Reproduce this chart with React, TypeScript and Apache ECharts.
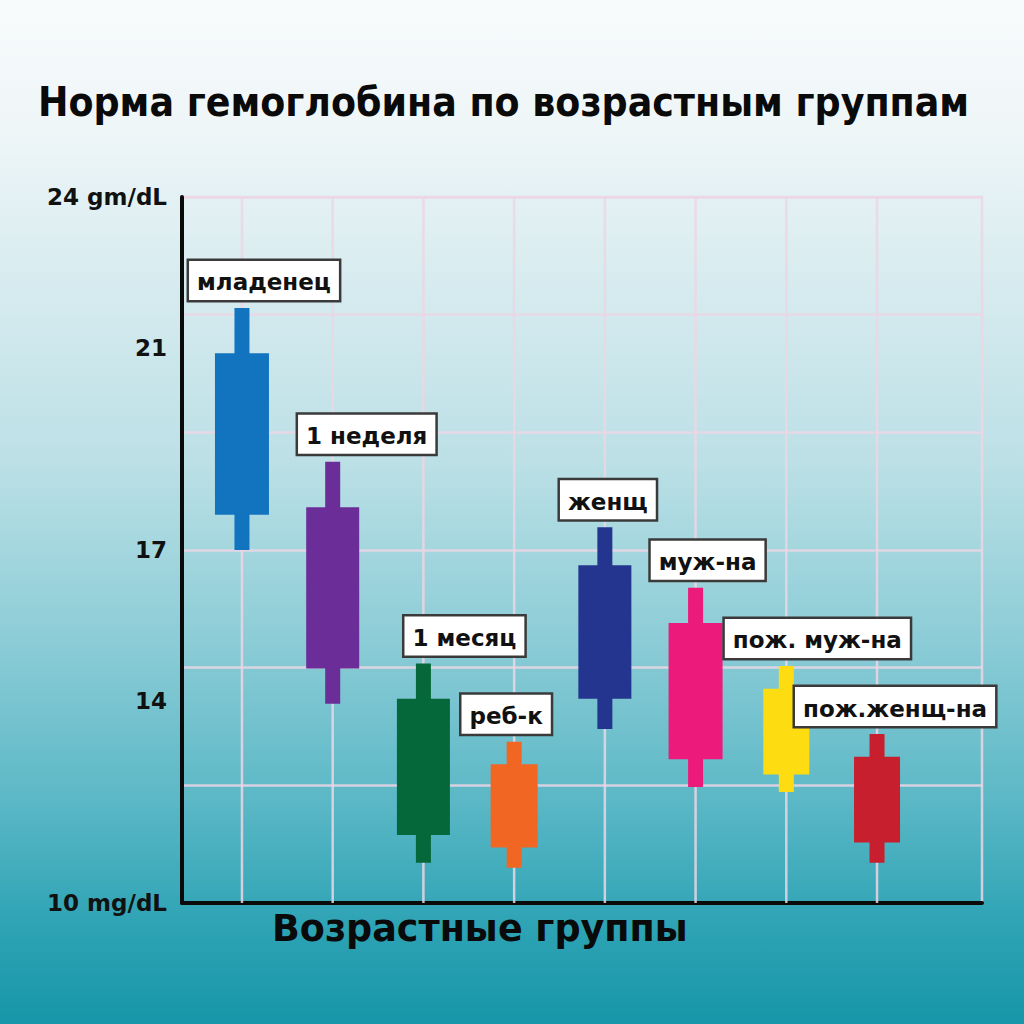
import { useEffect, useRef } from 'react';
import * as echarts from 'echarts';

// ---------- data ----------
const categories = ['младенец', '1 неделя', '1 месяц', 'реб-к', 'женщ', 'муж-на', 'пож. муж-на', 'пож.женщ-на'];
const highValues = [21.8, 18.75, 14.75, 13.2, 17.45, 16.25, 14.7, 13.35];
const boxTopValues = [20.9, 17.85, 14.05, 12.75, 16.7, 15.55, 14.25, 12.9];
const boxBottomValues = [17.7, 14.65, 11.35, 11.1, 14.05, 12.85, 12.55, 11.2];
const lowValues = [17.0, 13.95, 10.8, 10.7, 13.45, 12.3, 12.2, 10.8];
const yTickValues = [10, 14, 17, 21, 24];
const yTickLabels = ['10 mg/dL', '14', '17', '21', '24 gm/dL'];
const chartTitle = 'Норма гемоглобина по возрастным группам';
const xAxisTitle = 'Возрастные группы';

// ---------- styles ----------
const colors = ['#1273bf', '#6b2d97', '#05683a', '#f26624', '#24358f', '#ec1b7b', '#fddd12', '#c71f2e'];
const boxWidths = [54, 53, 53, 47, 53, 54, 46, 46];
const labelShiftX = [22, 34, 41, -8, 3, 12, 31, 18];
const whiskerWidth = 15;
const gridColor = 'rgba(236, 214, 228, 0.85)';

export default function App() {
  const ref = useRef<HTMLDivElement>(null);

  useEffect(() => {
    if (!ref.current) return;
    const chart = echarts.init(ref.current, undefined, { renderer: 'svg' });

    const candleData = categories.map((_, i) => [i, boxTopValues[i], boxBottomValues[i], lowValues[i], highValues[i]]);

    chart.setOption({
      animation: false,
      backgroundColor: 'transparent',
      title: [
        {
          text: chartTitle,
          left: 38,
          top: 81,
          padding: 0,
          textStyle: {
            fontFamily: '"DejaVu Sans Condensed", "Liberation Sans", sans-serif',
            fontWeight: 'bold',
            fontSize: 40.5,
            color: '#0a0a0a',
          },
        },
        {
          text: xAxisTitle,
          left: 272,
          top: 910,
          padding: 0,
          textStyle: {
            fontFamily: '"DejaVu Sans", sans-serif',
            fontWeight: 'bold',
            fontSize: 36.5,
            color: '#0a0a0a',
          },
        },
      ],
      grid: {
        left: 182,
        right: 42,
        top: 197,
        bottom: 121,
        show: true,
        borderColor: gridColor,
        borderWidth: 2.5,
        backgroundColor: 'transparent',
      },
      xAxis: {
        type: 'value',
        min: -0.661,
        max: 8.157,
        axisLine: { show: true, onZero: false, lineStyle: { color: '#0a0a0a', width: 4 } },
        axisTick: { show: false },
        axisLabel: { show: false },
        splitLine: { show: false },
      },
      yAxis: [
        {
          type: 'value',
          min: 10,
          max: 24,
          axisLine: { show: true, onZero: false, lineStyle: { color: '#0a0a0a', width: 4 } },
          axisTick: { show: false },
          splitLine: { show: false },
          axisLabel: {
            customValues: yTickValues,
            formatter: (v: number) => {
              const k = yTickValues.indexOf(v);
              return k >= 0 ? yTickLabels[k] : '';
            },
            margin: 15,
            fontFamily: '"DejaVu Sans", sans-serif',
            fontWeight: 'bold',
            fontSize: 23,
            color: '#111',
          },
        },
        {
          type: 'value',
          min: 0,
          max: 6,
          interval: 1,
          position: 'right',
          axisLine: { show: false },
          axisTick: { show: false },
          axisLabel: { show: false },
          splitLine: { show: true, lineStyle: { color: gridColor, width: 2.5 } },
        },
      ],
      series: [
        {
          type: 'custom',
          name: 'grid-verticals',
          silent: true,
          data: categories.map((_, i) => [i]),
          encode: { x: 0 },
          renderItem: (params: any, api: any) => {
            const cs = params.coordSys;
            const p = api.coord([api.value(0), 10]);
            return {
              type: 'line',
              shape: { x1: p[0], y1: cs.y, x2: p[0], y2: cs.y + cs.height },
              style: { stroke: gridColor, lineWidth: 2.5 },
            };
          },
        },
        {
          type: 'custom',
          name: 'hemoglobin',
          data: candleData,
          encode: { x: 0, y: [1, 2, 3, 4] },
          renderItem: (_params: any, api: any) => {
            const i = api.value(0);
            const top = api.coord([i, api.value(1)]);
            const bot = api.coord([i, api.value(2)]);
            const lo = api.coord([i, api.value(3)]);
            const hi = api.coord([i, api.value(4)]);
            const bw = boxWidths[i];
            return {
              type: 'group',
              children: [
                {
                  type: 'rect',
                  shape: { x: hi[0] - whiskerWidth / 2, y: hi[1], width: whiskerWidth, height: lo[1] - hi[1] },
                  style: { fill: colors[i] },
                },
                {
                  type: 'rect',
                  shape: { x: top[0] - bw / 2, y: top[1], width: bw, height: bot[1] - top[1] },
                  style: { fill: colors[i] },
                },
                {
                  type: 'text',
                  x: hi[0] + labelShiftX[i],
                  y: hi[1] - 8,
                  style: {
                    text: categories[i],
                    align: 'center',
                    verticalAlign: 'bottom',
                    font: 'bold 23px "DejaVu Sans", sans-serif',
                    fill: '#111',
                    backgroundColor: '#ffffff',
                    borderColor: '#3a3a3a',
                    borderWidth: 2.5,
                    padding: [10, 8, 6, 8],
                  },
                },
              ],
            };
          },
        },
      ],
    });

    return () => chart.dispose();
  }, []);

  return (
    <div
      style={{
        position: 'fixed',
        left: 0,
        top: 0,
        width: 1024,
        height: 1024,
        background:
          'linear-gradient(to bottom, #f8fbfc 0%, #eff6f8 12%, #dbedf1 25%, #bce0e6 45%, #8dcdd7 62%, #5cb8c6 78%, #2fa4b5 90%, #1696a8 100%)',
      }}
    >
      <div ref={ref} style={{ width: 1024, height: 1024 }} />
    </div>
  );
}
